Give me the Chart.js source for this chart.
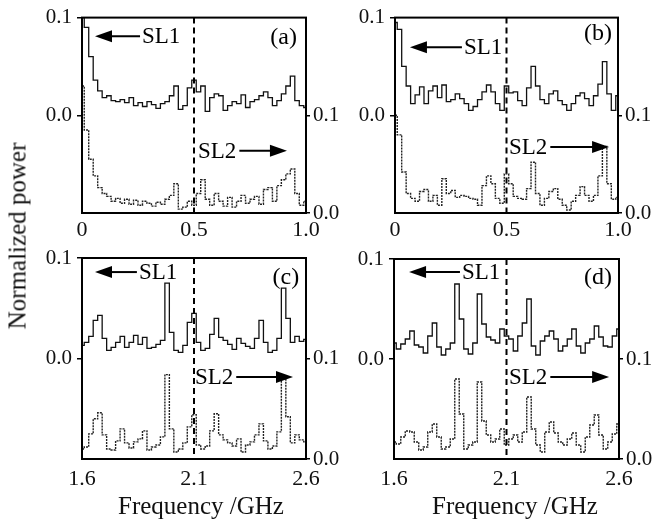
<!DOCTYPE html>
<html><head><meta charset="utf-8">
<script src="https://cdn.jsdelivr.net/npm/chart.js@4.4.0/dist/chart.umd.min.js"></script>
<style>
html,body{margin:0;padding:0;background:#fff;}
body{width:659px;height:524px;position:relative;overflow:hidden;}
canvas{position:absolute;}
.t{position:absolute;font-family:"Liberation Serif",serif;font-size:25px;color:#111;white-space:nowrap;transform:translate(-50%,-50%);line-height:1;}
</style></head><body>
<canvas id="ca"></canvas><canvas id="cb"></canvas><canvas id="cc"></canvas><canvas id="cd"></canvas>
<div class="t" style="left:17px;top:236px;transform:translate(-50%,-50%) rotate(-90deg);">Normalized power</div>
<div class="t" style="left:201px;top:505px;">Frequency /GHz</div>
<div class="t" style="left:515px;top:505px;">Frequency /GHz</div>
<script>
// ---- data ----
const freqLow = [0,0.02,0.04,0.06,0.08,0.1,0.12,0.14,0.16,0.18,0.2,0.22,0.24,0.26,0.28,0.3,0.32,0.34,0.36,0.38,0.4,0.42,0.44,0.46,0.48,0.5,0.52,0.54,0.56,0.58,0.6,0.62,0.64,0.66,0.68,0.7,0.72,0.74,0.76,0.78,0.8,0.82,0.84,0.86,0.88,0.9,0.92,0.94,0.96,0.98,1.0];
const freqHigh = [1.6,1.62,1.64,1.66,1.68,1.7,1.72,1.74,1.76,1.78,1.8,1.82,1.84,1.86,1.88,1.9,1.92,1.94,1.96,1.98,2.0,2.02,2.04,2.06,2.08,2.1,2.12,2.14,2.16,2.18,2.2,2.22,2.24,2.26,2.28,2.3,2.32,2.34,2.36,2.38,2.4,2.42,2.44,2.46,2.48,2.5,2.52,2.54,2.56,2.58,2.6];

const sl1A = [0.100,0.090,0.060,0.036,0.025,0.018,0.020,0.015,0.014,0.016,0.013,0.018,0.010,0.013,0.009,0.014,0.011,0.007,0.012,0.014,0.020,0.030,0.006,0.010,0.028,0.036,0.024,0.030,0.004,0.018,0.022,0.020,0.005,0.010,0.014,0.012,0.021,0.008,0.014,0.016,0.020,0.024,0.018,0.010,0.015,0.022,0.030,0.040,0.015,0.010,0.008];
const sl2A = [0.130,0.085,0.055,0.038,0.026,0.020,0.017,0.012,0.015,0.010,0.014,0.009,0.013,0.008,0.012,0.010,0.007,0.011,0.009,0.014,0.018,0.030,0.004,0.006,0.012,0.008,0.020,0.034,0.014,0.008,0.020,0.012,0.007,0.016,0.006,0.012,0.018,0.010,0.014,0.017,0.009,0.024,0.026,0.012,0.028,0.034,0.040,0.045,0.020,0.008,0.012];
const sl1B = [0.095,0.088,0.050,0.030,0.012,0.021,0.029,0.012,0.025,0.030,0.018,0.031,0.014,0.016,0.022,0.017,0.012,0.005,0.009,0.016,0.024,0.031,0.024,0.012,0.005,0.030,0.023,0.024,0.015,0.010,0.028,0.050,0.030,0.016,0.012,0.022,0.025,0.015,0.011,0.005,0.012,0.020,0.023,0.017,0.010,0.020,0.032,0.055,0.022,0.005,0.020];
const sl2B = [0.100,0.080,0.042,0.020,0.015,0.012,0.022,0.024,0.012,0.018,0.008,0.035,0.020,0.023,0.016,0.018,0.017,0.015,0.014,0.008,0.028,0.038,0.030,0.015,0.010,0.040,0.030,0.017,0.015,0.014,0.025,0.052,0.020,0.008,0.015,0.022,0.025,0.014,0.008,0.003,0.012,0.018,0.027,0.018,0.012,0.018,0.038,0.068,0.030,0.014,0.016];
const sl1C = [0.013,0.016,0.022,0.038,0.043,0.020,0.008,0.011,0.016,0.022,0.011,0.016,0.023,0.014,0.021,0.010,0.011,0.014,0.018,0.075,0.026,0.008,0.006,0.013,0.036,0.045,0.016,0.008,0.010,0.024,0.040,0.021,0.018,0.014,0.009,0.020,0.015,0.012,0.010,0.020,0.038,0.016,0.006,0.008,0.020,0.070,0.040,0.016,0.022,0.017,0.019];
const sl2C = [0.010,0.012,0.025,0.040,0.046,0.024,0.010,0.009,0.018,0.030,0.016,0.011,0.017,0.020,0.028,0.009,0.012,0.014,0.022,0.084,0.030,0.007,0.010,0.016,0.032,0.044,0.014,0.010,0.013,0.028,0.045,0.024,0.019,0.016,0.013,0.020,0.007,0.014,0.017,0.024,0.035,0.018,0.010,0.013,0.027,0.080,0.042,0.016,0.024,0.019,0.017];
const sl1D = [0.016,0.010,0.015,0.020,0.028,0.014,0.012,0.006,0.023,0.036,0.012,0.004,0.010,0.016,0.075,0.040,0.010,0.005,0.016,0.065,0.035,0.022,0.019,0.016,0.030,0.023,0.020,0.008,0.023,0.036,0.060,0.013,0.004,0.018,0.023,0.028,0.020,0.008,0.013,0.020,0.030,0.013,0.006,0.016,0.020,0.033,0.022,0.013,0.012,0.023,0.030];
const sl2D = [0.017,0.015,0.022,0.028,0.027,0.017,0.009,0.012,0.027,0.035,0.022,0.010,0.012,0.020,0.080,0.045,0.010,0.014,0.017,0.077,0.038,0.024,0.017,0.020,0.030,0.014,0.020,0.024,0.017,0.027,0.062,0.030,0.014,0.007,0.027,0.037,0.026,0.017,0.014,0.020,0.026,0.014,0.007,0.022,0.034,0.044,0.024,0.010,0.017,0.025,0.035];

const xTickValsLow = [0, 0.5, 1.0];
const xTickLabelsLow = ['0', '0.5', '1.0'];
const xTickValsHigh = [1.6, 2.1, 2.6];
const xTickLabelsHigh = ['1.6', '2.1', '2.6'];
const leftTickVals = [0, 0.1];
const leftTickLabels = ['0.0', '0.1'];
const rightTickVals = [0, 0.1];
const rightTickLabels = ['0.0', '0.1'];
const markerLow = 0.5, markerHigh = 2.1;
const seriesNames = ['SL1', 'SL2'];
const panelTags = ['(a)', '(b)', '(c)', '(d)'];

// ---- layout ----
const FONT = '"Liberation Serif", "Times New Roman", serif';
const panels = [
  {id:'ca', left:0, top:0, w:345, h:245, padTop:15, axL:82, axR:39, axB:32, xPad:4,
   freq:freqLow, s1:sl1A, s2:sl2A, xv:xTickValsLow, xl:xTickLabelsLow, mark:markerLow, tag:panelTags[0],
   ann:{sl1Tip:0.058, sl1Text:0.268, sl1Y:0.096, tagX:0.90, tagY:0.096, sl2Text:0.518, sl2Tip:0.915, sl2Y:0.682}},
  {id:'cb', left:312, top:0, w:347, h:245, padTop:15, axL:83, axR:41, axB:32, xPad:4,
   freq:freqLow, s1:sl1B, s2:sl2B, xv:xTickValsLow, xl:xTickLabelsLow, mark:markerLow, tag:panelTags[1],
   ann:{sl1Tip:0.067, sl1Text:0.309, sl1Y:0.152, tagX:0.91, tagY:0.076, sl2Text:0.511, sl2Tip:0.96, sl2Y:0.662}},
  {id:'cc', left:0, top:240, w:345, h:250, padTop:18, axL:82, axR:39, axB:31, xPad:7,
   freq:freqHigh, s1:sl1C, s2:sl2C, xv:xTickValsHigh, xl:xTickLabelsHigh, mark:markerHigh, tag:panelTags[2],
   ann:{sl1Tip:0.058, sl1Text:0.254, sl1Y:0.07, tagX:0.91, tagY:0.095, sl2Text:0.504, sl2Tip:0.942, sl2Y:0.592}},
  {id:'cd', left:312, top:240, w:347, h:250, padTop:19, axL:82, axR:40, axB:31, xPad:7,
   freq:freqHigh, s1:sl1D, s2:sl2D, xv:xTickValsHigh, xl:xTickLabelsHigh, mark:markerHigh, tag:panelTags[3],
   ann:{sl1Tip:0.067, sl1Text:0.302, sl1Y:0.065, tagX:0.907, tagY:0.09, sl2Text:0.511, sl2Tip:0.956, sl2Y:0.59}}
];

const overlay = {
  id: 'overlay',
  afterDatasetsDraw(chart, args, o) {
    const {ctx, chartArea: a, scales} = chart;
    const W = a.right - a.left, H = a.bottom - a.top;
    const X = f => a.left + f * W, Y = f => a.top + f * H;
    ctx.save();
    ctx.strokeStyle = '#000'; ctx.fillStyle = '#000';
    const mx = scales.x.getPixelForValue(o.mark);
    ctx.lineWidth = 2; ctx.setLineDash([6, 4]);
    ctx.beginPath(); ctx.moveTo(mx, a.top); ctx.lineTo(mx, a.bottom); ctx.stroke();
    ctx.setLineDash([]);
    ctx.lineWidth = 2;
    ctx.strokeRect(a.left, a.top, W, H);
    ctx.font = '23px ' + FONT; ctx.textBaseline = 'middle'; ctx.textAlign = 'left';
    const y1 = Y(o.ann.sl1Y), tip1 = X(o.ann.sl1Tip), t1 = X(o.ann.sl1Text);
    ctx.fillText(seriesNames[0], t1, y1 + 1);
    ctx.lineWidth = 2;
    ctx.beginPath(); ctx.moveTo(tip1 + 12, y1); ctx.lineTo(t1 - 2, y1); ctx.stroke();
    ctx.beginPath(); ctx.moveTo(tip1, y1); ctx.lineTo(tip1 + 17, y1 - 6); ctx.lineTo(tip1 + 17, y1 + 6); ctx.closePath(); ctx.fill();
    const y2 = Y(o.ann.sl2Y), t2 = X(o.ann.sl2Text), tip2 = X(o.ann.sl2Tip);
    ctx.fillText(seriesNames[1], t2, y2 + 1);
    const w2 = ctx.measureText(seriesNames[1]).width;
    ctx.beginPath(); ctx.moveTo(t2 + w2 + 3, y2); ctx.lineTo(tip2 - 12, y2); ctx.stroke();
    ctx.beginPath(); ctx.moveTo(tip2, y2); ctx.lineTo(tip2 - 17, y2 - 6); ctx.lineTo(tip2 - 17, y2 + 6); ctx.closePath(); ctx.fill();
    ctx.font = '24px ' + FONT; ctx.textAlign = 'center';
    ctx.fillText(o.tag, X(o.ann.tagX), Y(o.ann.tagY) + 1);
    ctx.restore();
  }
};

panels.forEach(p => {
  const cv = document.getElementById(p.id);
  cv.width = p.w; cv.height = p.h;
  cv.style.left = p.left + 'px'; cv.style.top = p.top + 'px';
  new Chart(cv, {
    type: 'line',
    data: {
      datasets: [
        {label: seriesNames[0], yAxisID: 'y', data: p.freq.map((f, i) => ({x: f, y: p.s1[i]})),
         borderColor: '#111', borderWidth: 1.3, pointRadius: 0, stepped: 'middle', fill: false},
        {label: seriesNames[1], yAxisID: 'y2', data: p.freq.map((f, i) => ({x: f, y: p.s2[i]})),
         borderColor: '#222', borderWidth: 1.4, borderDash: [2, 1], pointRadius: 0, stepped: 'middle', fill: false}
      ]
    },
    options: {
      responsive: false, animation: false, devicePixelRatio: 1,
      layout: {padding: {top: p.padTop, left: 0, right: 0, bottom: 0}},
      plugins: {legend: {display: false}, tooltip: {enabled: false},
        overlay: {mark: p.mark, tag: p.tag, ann: p.ann}},
      scales: {
        x: {type: 'linear', min: p.xv[0], max: p.xv[p.xv.length - 1],
          afterBuildTicks: s => { s.ticks = p.xv.map(v => ({value: v})); },
          afterFit: s => { s.height = p.axB; },
          ticks: {callback: v => { const k = p.xv.indexOf(v); return k >= 0 ? p.xl[k] : ''; },
            font: {family: FONT, size: 22}, color: '#111', padding: p.xPad, maxRotation: 0, autoSkip: false},
          grid: {display: false, drawTicks: false, tickLength: 0}, border: {display: false}},
        y: {type: 'linear', position: 'left', min: -0.1, max: 0.1,
          afterBuildTicks: s => { s.ticks = leftTickVals.map(v => ({value: v})); },
          afterFit: s => { s.width = p.axL; },
          ticks: {callback: v => { const k = leftTickVals.indexOf(v); return k >= 0 ? leftTickLabels[k] : ''; },
            font: {family: FONT, size: 21}, color: '#111', padding: 5},
          grid: {display: true, drawOnChartArea: false, drawTicks: true, tickLength: 5, color: '#000', lineWidth: 1.5},
          border: {display: false}},
        y2: {type: 'linear', position: 'right', min: 0, max: 0.2,
          afterBuildTicks: s => { s.ticks = rightTickVals.map(v => ({value: v})); },
          afterFit: s => { s.width = p.axR; },
          ticks: {callback: v => { const k = rightTickVals.indexOf(v); return k >= 0 ? rightTickLabels[k] : ''; },
            font: {family: FONT, size: 21}, color: '#111', padding: 3},
          grid: {display: true, drawOnChartArea: false, drawTicks: true, tickLength: 4, color: '#000', lineWidth: 1.5},
          border: {display: false}}
      }
    },
    plugins: [overlay]
  });
});
</script>
</body></html>
